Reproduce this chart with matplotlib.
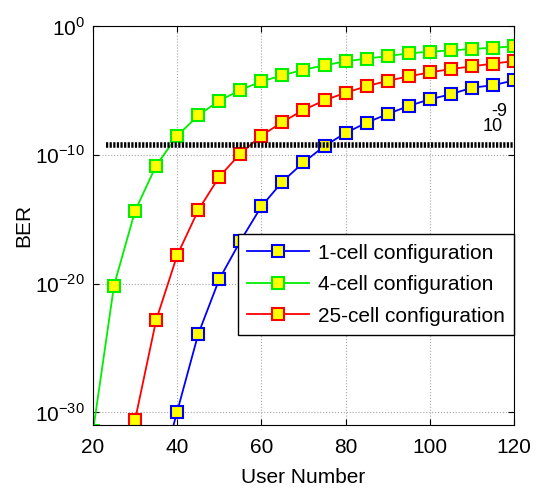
import numpy as np
import matplotlib.pyplot as plt

plt.rcParams['font.family'] = ['Liberation Sans', 'DejaVu Sans']
plt.rcParams['mathtext.fontset'] = 'custom'
plt.rcParams['mathtext.rm'] = 'Liberation Sans'

# data (BER as log10 values)
users_1cell = [35, 40, 45, 50, 55, 60, 65, 70, 75, 80, 85, 90, 95, 100, 105, 110, 115, 120]
logber_1cell = [-36.0, -29.95, -23.93, -19.66, -16.7, -14.0, -12.07, -10.58, -9.3, -8.29,
                -7.49, -6.81, -6.19, -5.67, -5.28, -4.77, -4.58, -4.2]

users_4cell = [20, 25, 30, 35, 40, 45, 50, 55, 60, 65, 70, 75, 80, 85, 90, 95, 100, 105, 110, 115, 120]
logber_4cell = [-31.5, -20.15, -14.35, -10.83, -8.52, -6.92, -5.78, -4.95, -4.28, -3.81,
                -3.37, -3.03, -2.72, -2.51, -2.31, -2.10, -1.97, -1.87, -1.76, -1.66, -1.56]

users_25cell = [30, 35, 40, 45, 50, 55, 60, 65, 70, 75, 80, 85, 90, 95, 100, 105, 110, 115, 120]
logber_25cell = [-30.6, -22.85, -17.8, -14.3, -11.69, -9.9, -8.5, -7.44, -6.5, -5.75,
                 -5.16, -4.66, -4.23, -3.89, -3.58, -3.32, -3.11, -2.9, -2.7]

threshold = 6e-10
threshold_x = [23, 120]

fig = plt.figure(figsize=(5.39, 4.88), dpi=100)
ax = fig.add_axes([0.1725, 0.129, 0.7811, 0.817])

style = dict(marker='s', markersize=8, markeredgewidth=1.5, markerfacecolor='yellow', lw=1.3)
ax.plot(users_1cell, 10.0 ** np.array(logber_1cell), color='blue', label='1-cell configuration', **style)
ax.plot(users_4cell, 10.0 ** np.array(logber_4cell), color='#00ee00', label='4-cell configuration', **style)
ax.plot(users_25cell, 10.0 ** np.array(logber_25cell), color='red', label='25-cell configuration', **style)

ax.plot(threshold_x, [threshold, threshold], color='black', lw=4, dashes=(0.4, 0.25))
ax.text(117.3, 10 ** -7.75, '10', fontsize=13, ha='right', va='center')
ax.text(118.5, 10 ** -6.6, '-9', fontsize=13, ha='right', va='center')

ax.set_yscale('log')
ax.set_xlim(20, 120)
ax.set_ylim(1e-31, 1e0)
ax.set_xticks([20, 40, 60, 80, 100, 120])
ax.set_yticks([1e-30, 1e-20, 1e-10, 1e0])
ax.set_yticklabels([r'$10^{-30}$', r'$10^{-20}$', r'$10^{-10}$', r'$10^{0}$'])
ax.minorticks_off()
ax.tick_params(direction='in', top=True, right=True, labelsize=15, length=4)
ax.tick_params(axis='x', pad=9)
ax.tick_params(axis='y', pad=6)
ax.grid(True, color='0.65', ls=':', lw=0.8)

ax.set_xlabel('User Number', fontsize=15, labelpad=8)
ax.set_ylabel('BER', fontsize=15, labelpad=1)

leg = ax.legend(loc='lower right', bbox_to_anchor=(1.0, 0.226), fontsize=15, fancybox=False,
                framealpha=1, edgecolor='black', handlelength=3.0, borderpad=0.45,
                labelspacing=0.6, handletextpad=0.4, borderaxespad=0)
leg.get_frame().set_linewidth(1.0)

plt.savefig('out.png', dpi=100)
